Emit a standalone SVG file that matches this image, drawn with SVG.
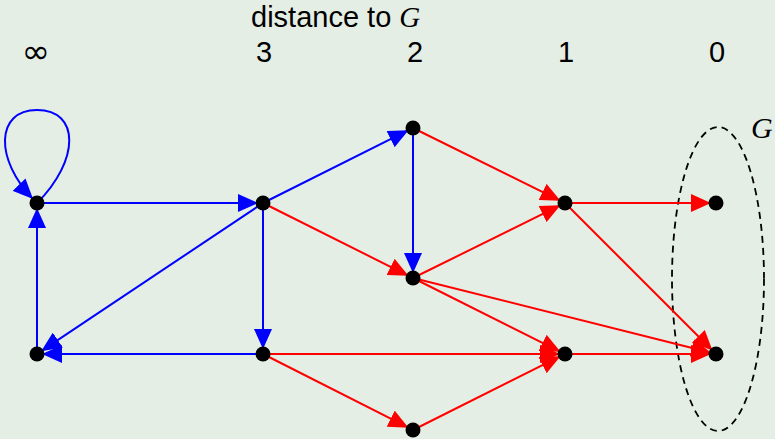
<svg xmlns="http://www.w3.org/2000/svg" width="775" height="439" viewBox="0 0 775 439">
<style>
.bg{fill:#e5eee5}
.b{stroke:#0000ff;stroke-width:2;fill:none}
.r{stroke:#ff0000;stroke-width:2;fill:none}
.node{fill:#000}
.lbl{font-family:"Liberation Sans",Arial,sans-serif;font-size:29px;fill:#000;text-anchor:middle}
.g{font-family:"Liberation Serif","Times New Roman",serif;font-style:italic;font-size:30px;fill:#000}
</style>
<defs>
<marker id="ab" viewBox="0 0 20 18" refX="20" refY="9" markerWidth="20" markerHeight="18" markerUnits="userSpaceOnUse" orient="auto"><path d="M0,0 L20,9 L0,18 z" fill="#0000ff"/></marker>
<marker id="ar" viewBox="0 0 20 18" refX="20" refY="9" markerWidth="20" markerHeight="18" markerUnits="userSpaceOnUse" orient="auto"><path d="M0,0 L20,9 L0,18 z" fill="#ff0000"/></marker>
</defs>
<rect class="bg" x="0" y="0" width="775" height="439"/>
<g id="labels">
<text x="251" y="27" style="font-family:'Liberation Sans',Arial,sans-serif;font-size:29px">distance to <tspan class="g" style="font-size:29px">G</tspan></text>
<text x="36" y="63" style="font-family:'DejaVu Sans',sans-serif;font-size:34px;text-anchor:middle">∞</text>
<text class="lbl" x="264" y="62">3</text>
<text class="lbl" x="415" y="62">2</text>
<text class="lbl" x="566" y="62">1</text>
<text class="lbl" x="717" y="62">0</text>
</g>
<g id="goal">
<ellipse cx="718" cy="279" rx="46" ry="152" fill="none" stroke="#000" stroke-width="1.8" stroke-dasharray="7 5"/>
<text class="g" x="751" y="138">G</text>
</g>
<g id="connectors">
<path class="b" d="M37,203 C80,160 80,110 37,110 C-5,110 -5,160 33,199" marker-end="url(#ab)"/>
<line class="b" x1="37" y1="203" x2="258" y2="203" marker-end="url(#ab)"/>
<line class="b" x1="263" y1="203" x2="408.5" y2="130.2" marker-end="url(#ab)"/>
<line class="b" x1="413" y1="128" x2="413" y2="273" marker-end="url(#ab)"/>
<line class="b" x1="263" y1="203" x2="263" y2="349" marker-end="url(#ab)"/>
<line class="b" x1="263" y1="203" x2="41.2" y2="351.2" marker-end="url(#ab)"/>
<line class="b" x1="263" y1="354" x2="42" y2="354" marker-end="url(#ab)"/>
<line class="b" x1="37" y1="354" x2="37" y2="208" marker-end="url(#ab)"/>
<line class="r" x1="263" y1="203" x2="408.5" y2="275.8" marker-end="url(#ar)"/>
<line class="r" x1="413" y1="128" x2="560.5" y2="200.8" marker-end="url(#ar)"/>
<line class="r" x1="413" y1="278" x2="560.5" y2="205.2" marker-end="url(#ar)"/>
<line class="r" x1="413" y1="278" x2="560.5" y2="351.8" marker-end="url(#ar)"/>
<line class="r" x1="413" y1="278" x2="711.1" y2="352.8" marker-end="url(#ar)"/>
<line class="r" x1="565" y1="203" x2="711" y2="203" marker-end="url(#ar)"/>
<line class="r" x1="565" y1="203" x2="712.5" y2="350.5" marker-end="url(#ar)"/>
<line class="r" x1="263" y1="354" x2="560" y2="354" marker-end="url(#ar)"/>
<line class="r" x1="565" y1="354" x2="711" y2="354" marker-end="url(#ar)"/>
<line class="r" x1="263" y1="354" x2="408.5" y2="427.7" marker-end="url(#ar)"/>
<line class="r" x1="413" y1="430" x2="560.5" y2="356.2" marker-end="url(#ar)"/>
</g>
<g id="nA"><circle class="node" cx="37" cy="203" r="7.5"/></g>
<g id="nB"><circle class="node" cx="37" cy="354" r="7.5"/></g>
<g id="nC"><circle class="node" cx="263" cy="203" r="7.5"/></g>
<g id="nD"><circle class="node" cx="263" cy="354" r="7.5"/></g>
<g id="nE"><circle class="node" cx="413" cy="128" r="7.5"/></g>
<g id="nF"><circle class="node" cx="413" cy="278" r="7.5"/></g>
<g id="nH"><circle class="node" cx="413" cy="430" r="7.5"/></g>
<g id="nI"><circle class="node" cx="565" cy="203" r="7.5"/></g>
<g id="nJ"><circle class="node" cx="565" cy="354" r="7.5"/></g>
<g id="nK"><circle class="node" cx="716" cy="203" r="7.5"/></g>
<g id="nL"><circle class="node" cx="716" cy="354" r="7.5"/></g>
</svg>
